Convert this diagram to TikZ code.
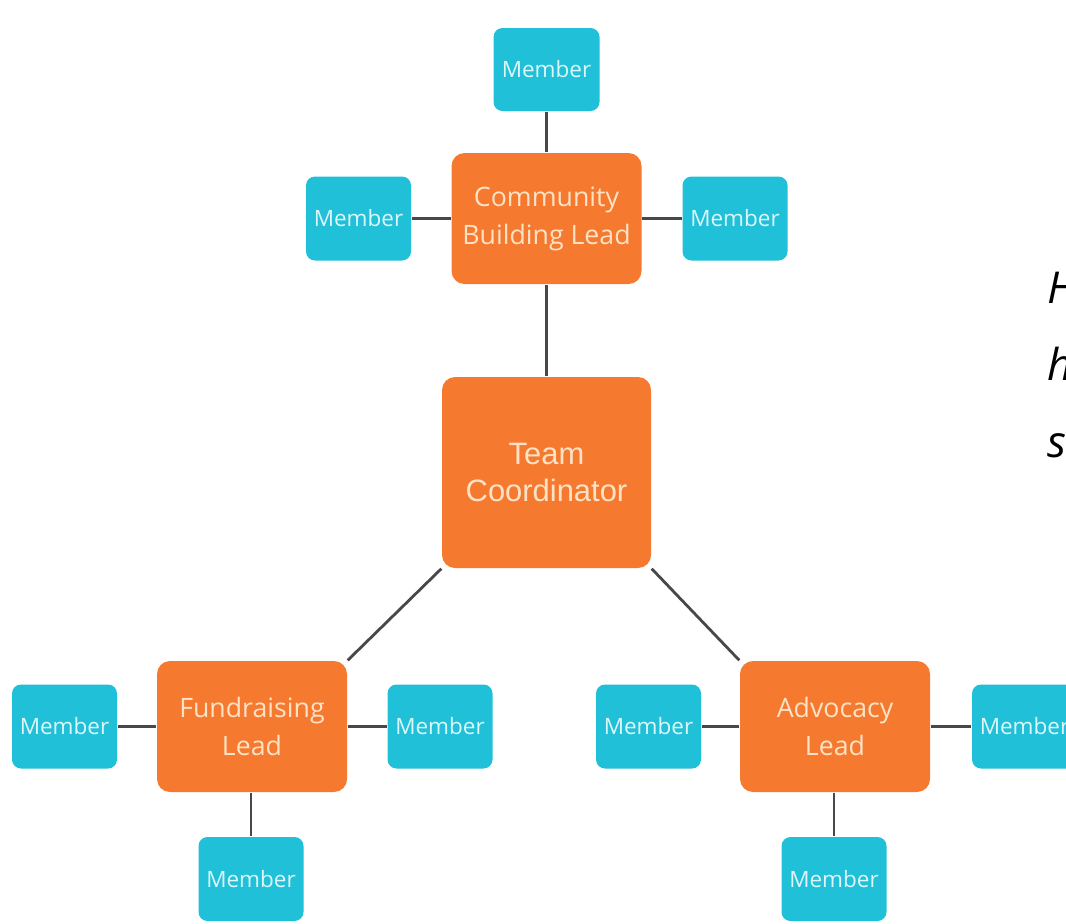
\documentclass[tikz,border=0pt]{standalone}
\usepackage{fontspec}
\setmainfont{Open Sans}
\newfontfamily\coordfont{Liberation Sans}
\usetikzlibrary{backgrounds}
\definecolor{leadorange}{HTML}{F57A2F}
\definecolor{membercyan}{HTML}{1FC0D8}
\definecolor{leadtext}{HTML}{FDE2C6}
\definecolor{membertext}{HTML}{DDF7FB}
\definecolor{linkgray}{HTML}{484848}
\tikzset{
	member/.style={fill=membercyan, rounded corners=0.09cm, minimum width=1.05cm,
		minimum height=0.84cm, inner sep=0pt, text=membertext,
		font=\fontsize{6.4}{7.5}\selectfont}
}
\tikzset{
	lead/.style={fill=leadorange, rounded corners=0.13cm, minimum width=1.9cm,
		minimum height=1.31cm, inner sep=0pt, align=center, text=leadtext,
		font=\fontsize{7.6}{10.8}\selectfont}
}
\tikzset{
	link/.style={draw=linkgray, line width=0.8pt}
}

\begin{document}
\begin{tikzpicture}
      \useasboundingbox (0,0) rectangle (10.66,-9.23);

      % coordinator and leads
      \node[lead, minimum width=2.09cm, minimum height=1.91cm,
        font=\coordfont\fontsize{8.8}{10.8}\selectfont] (tc) at (5.465,-4.725) {Team\\Coordinator};
      \node[lead] (cb) at (5.465,-2.185) {Community\\Building Lead};
      \node[lead] (fl) at (2.52,-7.265) {Fundraising\\Lead};
      \node[lead] (al) at (8.35,-7.265) {Advocacy\\Lead};

      % members of community building
      \node[member, minimum width=1.06cm, minimum height=0.83cm] (cbtop) at (5.465,-0.695) {Member};
      \node[member] (cbleft) at (3.585,-2.185) {Member};
      \node[member] (cbright) at (7.35,-2.185) {Member};

      % members of fundraising
      \node[member] (flleft) at (0.645,-7.265) {Member};
      \node[member] (flright) at (4.40,-7.265) {Member};
      \node[member] (flbottom) at (2.51,-8.79) {Member};

      % members of advocacy
      \node[member] (alleft) at (6.485,-7.265) {Member};
      \node[member] (alright) at (10.245,-7.265) {Member};
      \node[member] (albottom) at (8.34,-8.79) {Member};

      % connectors, behind the boxes
      \begin{scope}[on background layer]
        \draw[link] (tc.north) -- (cb.south);
        \draw[link] (tc.south west) -- (fl.north east);
        \draw[link] (tc.south east) -- (al.north west);
        \draw[link] (cb.north) -- (cb.north |- cbtop.south);
        \draw[link] (cb.west) -- (cbleft.east);
        \draw[link] (cb.east) -- (cbright.west);
        \draw[link] (fl.west) -- (flleft.east);
        \draw[link] (fl.east) -- (flright.west);
        \draw[link] (flbottom.north |- fl.south) -- (flbottom.north);
        \draw[link] (al.west) -- (alleft.east);
        \draw[link] (al.east) -- (alright.west);
        \draw[link] (albottom.north |- al.south) -- (albottom.north);
      \end{scope}

      % text cut off at the right edge
      \node[anchor=base west, inner sep=0pt, font=\itshape\fontsize{12.5}{14}\selectfont] (txta) at (10.47,-3.03) {H};
      \node[anchor=base west, inner sep=0pt, font=\itshape\fontsize{12.5}{14}\selectfont] (txtb) at (10.47,-3.80) {h};
      \node[anchor=base west, inner sep=0pt, font=\itshape\fontsize{12.5}{14}\selectfont] (txtc) at (10.47,-4.57) {s};
\end{tikzpicture}
\end{document}
